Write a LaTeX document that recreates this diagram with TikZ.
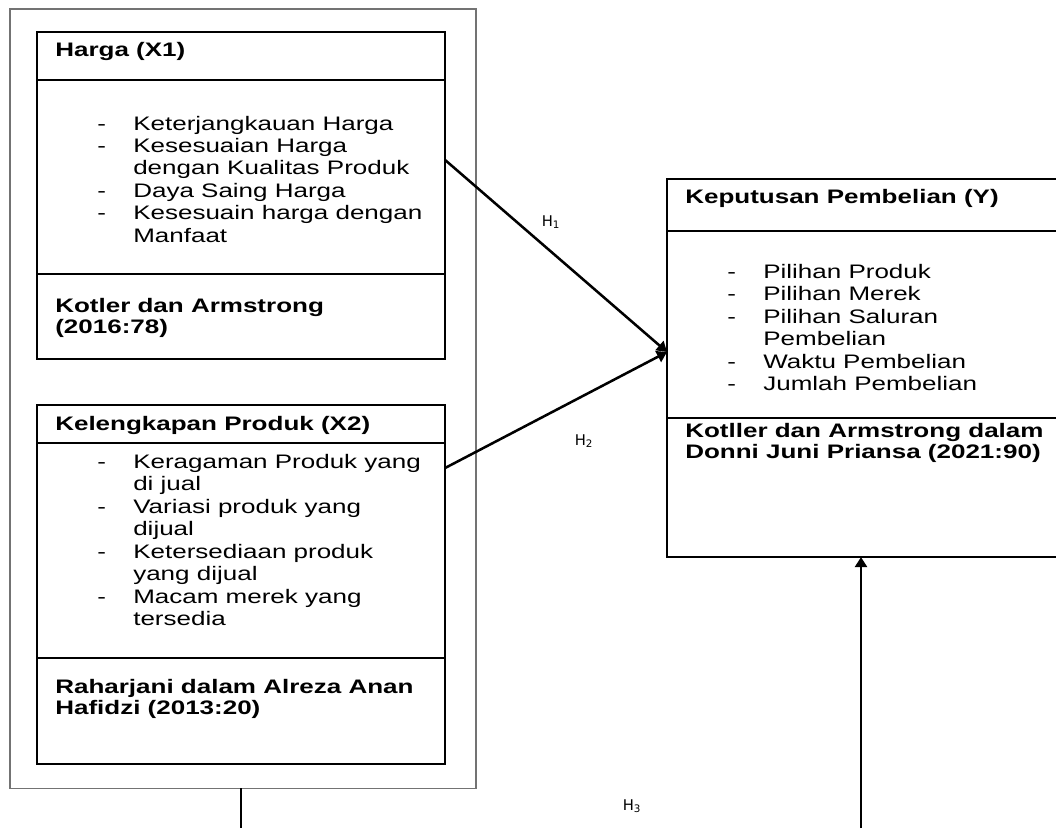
\documentclass[tikz,border=0pt]{standalone}
\usepackage{fontspec}
\setmainfont[FakeStretch=1.33]{Liberation Sans}
\newfontfamily\hfont{DejaVu Sans}
\usetikzlibrary{positioning,arrows.meta}
\tikzset{
	part/.style={draw, line width=1.4pt, inner sep=0, outer sep=0, minimum width=10.2cm},
	ypart/.style={part, minimum width=9.9cm},
	frame/.style={draw=black!55, line width=0.9pt, inner sep=0, outer sep=0},
	title/.style={anchor=base west, inner sep=0, font=\fontsize{13.9}{15}\selectfont\bfseries},
	items/.style={anchor=base west, inner sep=0, font=\fontsize{13.9}{16}\selectfont},
	hlabel/.style={anchor=base, inner sep=0, font=\hfont\fontsize{10.5}{12}\selectfont},
	link/.style={line width=1.8pt, -{Triangle[length=0.25cm,width=0.3cm]}}
}
\newcommand{\itemlist}[1]{\begin{tabular}[t]{@{}p{0.9cm}@{}l@{}}#1\end{tabular}}
\newcommand{\lines}[1]{\begin{tabular}[t]{@{}l@{}}#1\end{tabular}}

\begin{document}
\begin{tikzpicture}[x=0.025cm, y=-0.025cm]
			%%%%% START %%%%%
			\useasboundingbox (0,0) rectangle (1056,828);
			
			\node[frame, minimum width=11.65cm, minimum height=19.475cm, anchor=north west] (frame) at (10,9) {};
			
			% Harga
			\node[part, minimum height=1.2cm, anchor=north west] (x1head) at (37,32) {};
			\node[part, minimum height=4.85cm, below=0pt of x1head] (x1body) {};
			\node[part, minimum height=2.125cm, below=0pt of x1body] (x1src) {};
			
			\node[title] (x1title) at (55,57) {Harga (X1)};
			\node[items] (x1items) at (97,130) {\itemlist{- & Keterjangkauan Harga\\ - & Kesesuaian Harga\\ & dengan Kualitas Produk\\ - & Daya Saing Harga\\ - & Kesesuain harga dengan\\ & Manfaat}};
			\node[title] (x1ref) at (55,312) {\lines{Kotler dan Armstrong\\(2016:78)}};
			
			% Kelengkapan Produk
			\node[part, minimum height=0.95cm, anchor=north west] (x2head) at (37,405) {};
			\node[part, minimum height=5.375cm, below=0pt of x2head] (x2body) {};
			\node[part, minimum height=2.65cm, below=0pt of x2body] (x2src) {};
			
			\node[title] (x2title) at (55,430) {Kelengkapan Produk (X2)};
			\node[items] (x2items) at (97,468) {\itemlist{- & Keragaman Produk yang\\ & di jual\\ - & Variasi produk yang\\ & dijual\\ - & Ketersediaan produk\\ & yang dijual\\ - & Macam merek yang\\ & tersedia}};
			\node[title] (x2ref) at (55,693) {\lines{Raharjani dalam Alreza Anan\\Hafidzi (2013:20)}};
			
			% Keputusan Pembelian
			\node[ypart, minimum height=1.3cm, anchor=north west] (yhead) at (667,179) {};
			\node[ypart, minimum height=4.675cm, below=0pt of yhead] (ybody) {};
			\node[ypart, minimum height=3.475cm, below=0pt of ybody] (ysrc) {};
			
			\node[title] (ytitle) at (685,203) {Keputusan Pembelian (Y)};
			\node[items] (yitems) at (727,278) {\itemlist{- & Pilihan Produk\\ - & Pilihan Merek\\ - & Pilihan Saluran\\ & Pembelian\\ - & Waktu Pembelian\\ - & Jumlah Pembelian}};
			\node[title] (yref) at (685,437) {\lines{Kotller dan Armstrong dalam\\Donni Juni Priansa (2021:90)}};
			
			% hipotesis
			\coordinate (h1start) at (x1body.east |- 0,160);
			\coordinate (h2start) at (x2body.east |- 0,468);
			\coordinate (ytip) at (ybody.west |- 0,352);
			\coordinate (h3foot) at (861,828);
			\coordinate (x2foot) at (241,828);
			
			\draw[link] (h1start) -- (ytip);
			\draw[link] (h2start) -- (ytip);
			\draw[link] (h3foot) -- (h3foot |- ysrc.south);
			\draw[line width=2pt] (frame.south -| x2foot) -- (x2foot);
			
			\node[hlabel] (h1) at (551,226) {H\textsubscript{1}};
			\node[hlabel] (h2) at (584,445) {H\textsubscript{2}};
			\node[hlabel] (h3) at (632,810) {H\textsubscript{3}};
			
			%%%%% END %%%%%
\end{tikzpicture}
\end{document}
